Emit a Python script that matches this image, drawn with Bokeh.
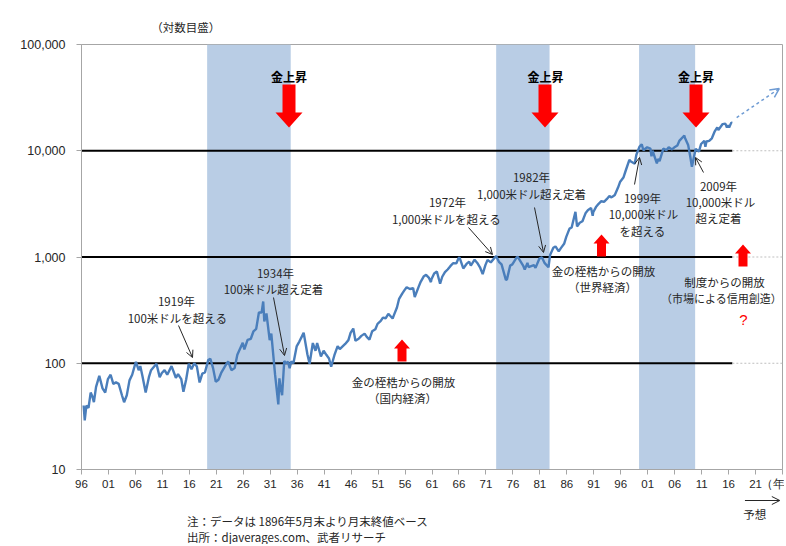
from bokeh.plotting import figure
from bokeh.layouts import column
from bokeh.models import FixedTicker, Label, Arrow, OpenHead, Range1d
from bokeh.embed import file_html
from bokeh.resources import INLINE

# ---------------- data ----------------
years = [
    1896.4, 1896.6, 1896.9, 1897.3, 1897.7, 1898.0, 1898.3, 1898.7, 1899.3, 1899.9,
    1900.4, 1900.9, 1901.4, 1901.9, 1902.4, 1902.9, 1903.5, 1903.9, 1904.4, 1904.9,
    1905.4, 1905.9, 1906.1, 1906.6, 1906.9, 1907.3, 1907.9, 1908.5, 1908.9, 1909.9,
    1910.5, 1910.9, 1911.4, 1911.9, 1912.7, 1913.5, 1913.9, 1914.5, 1914.9, 1915.4,
    1915.9, 1916.4, 1916.9, 1917.4, 1917.9, 1918.4, 1918.9, 1919.5, 1919.9,
    1920.4, 1920.9, 1921.4, 1921.9, 1922.9, 1923.2, 1923.8, 1924.4, 1924.9, 1925.9,
    1926.2, 1926.8, 1927.4, 1927.9, 1928.4, 1928.9, 1929.4, 1929.7, 1929.9,
    1930.3, 1930.9, 1931.2, 1931.9, 1932.5, 1932.7, 1932.9, 1933.2, 1933.6, 1933.9,
    1934.3, 1934.6, 1934.9, 1935.3, 1935.9, 1936.4, 1936.9, 1937.2, 1937.9, 1938.3,
    1938.9, 1939.4, 1939.7,
    1940.4, 1940.9, 1941.4, 1941.9, 1942.3, 1942.9, 1943.5, 1943.9, 1944.9, 1945.5,
    1945.9, 1946.4, 1946.8, 1947.4, 1947.9, 1948.5, 1948.9, 1949.4, 1949.9,
    1950.5, 1950.9, 1951.5, 1951.9, 1952.4, 1952.9, 1953.7, 1953.9, 1954.5, 1954.9,
    1955.5, 1955.9, 1956.3, 1956.9, 1957.5, 1957.8, 1958.5, 1958.9, 1959.5, 1959.9,
    1960.4, 1960.8, 1960.9, 1961.4, 1961.9, 1962.5, 1962.9, 1963.4, 1963.9, 1964.4,
    1964.9, 1965.5, 1965.9, 1966.1, 1966.8, 1967.4, 1967.9, 1968.2, 1968.9, 1969.4,
    1969.9,
    1970.4, 1970.9, 1971.3, 1971.9, 1972.9, 1973.4, 1973.9, 1974.7, 1974.9, 1975.5,
    1975.9, 1976.7, 1976.9, 1977.9, 1978.2, 1978.7, 1978.9, 1979.9,
    1980.2, 1980.9, 1981.4, 1981.9, 1982.6, 1982.9, 1983.5, 1983.9, 1984.5, 1984.9,
    1985.5, 1985.9, 1986.5, 1986.9, 1987.6, 1987.9, 1988.4, 1988.9, 1989.5, 1989.9,
    1990.5, 1990.8, 1990.9, 1991.4, 1991.9, 1992.4, 1992.9, 1993.4, 1993.9, 1994.2,
    1994.5, 1994.9, 1995.5, 1995.9, 1996.5, 1996.9, 1997.6, 1997.9, 1998.6, 1998.9,
    1999.5, 1999.9,
    2000.2, 2000.9, 2001.5, 2001.7, 2001.9, 2002.7, 2002.9, 2003.2, 2003.9, 2004.5,
    2004.9, 2005.5, 2005.9, 2006.5, 2006.9, 2007.8, 2007.9, 2008.5, 2008.9, 2009.2,
    2009.9,
    2010.5, 2010.9, 2011.5, 2011.7, 2011.9, 2012.4, 2012.9, 2013.4, 2013.9, 2014.1,
    2014.9, 2015.4, 2015.7, 2015.9, 2016.1, 2016.5, 2016.7,
]
djia = [
    40, 29, 40, 38, 53, 49, 43, 60, 76, 58,
    53, 71, 78, 64, 66, 64, 50, 43, 50, 69,
    78, 96, 103, 86, 94, 76, 53, 74, 86, 99,
    74, 81, 86, 78, 94, 73, 79, 71, 54, 70,
    99, 88, 100, 93, 66, 80, 82, 107, 110,
    90, 67, 70, 81, 99, 104, 86, 90, 120, 156,
    135, 166, 170, 200, 211, 300, 300, 381, 248,
    294, 165, 190, 78, 41, 72, 60, 50, 105, 100,
    103, 90, 104, 100, 144, 160, 180, 194, 121, 99,
    155, 131, 155,
    116, 131, 120, 111, 93, 119, 145, 136, 152, 165,
    193, 212, 163, 170, 181, 190, 177, 167, 200,
    209, 235, 250, 269, 265, 292, 264, 281, 335, 404,
    455, 488, 520, 500, 510, 420, 520, 584, 660, 679,
    640, 580, 616, 700, 731, 560, 652, 720, 763, 820,
    874, 870, 969, 990, 780, 860, 905, 830, 944, 880,
    800,
    690, 839, 940, 890, 1020, 900, 851, 610, 616, 830,
    852, 990, 1005, 831, 760, 880, 805, 839,
    790, 964, 990, 875, 800, 1047, 1220, 1259, 1130, 1212,
    1330, 1547, 1850, 1896, 2660, 1939, 2100, 2169, 2600, 2753,
    2900, 2440, 2634, 2950, 3169, 3350, 3301, 3500, 3754, 3650,
    3700, 3834, 4500, 5117, 5600, 6448, 8200, 7908, 7540, 9181,
    10970, 11497,
    10100, 10787, 10500, 8850, 10021, 7600, 8342, 7990, 10454, 10150,
    10783, 10300, 10718, 11200, 12463, 13930, 13265, 11350, 8776, 7060,
    10428,
    9800, 11578, 12400, 10900, 12218, 12400, 13104, 15100, 16577, 15700,
    17823, 18000, 16500, 17425, 16500, 18400, 18300,
]

band_start = [1919.3, 1972.9, 1999.4]
band_end = [1934.8, 1982.8, 2009.8]
levels = [100, 1000, 10000]
level_end = 2016.7
forecast_x = [2017.5, 2025.4]
forecast_y = [20500, 38500]

x_ticks = list(range(1896, 2027, 5))
x_tick_labels = ["96", "01", "06", "11", "16", "21", "26", "31", "36", "41", "46",
                 "51", "56", "61", "66", "71", "76", "81", "86", "91", "96",
                 "01", "06", "11", "16", "21", "（年"]
y_ticks = [10, 100, 1000, 10000, 100000]
y_tick_labels = ["10", "100", "1,000", "10,000", "100,000"]

# ---------------- layout ----------------
W = 784
TOP_H, MAIN_H, BOT_H = 36, 458, 50
LEFT, RIGHT, TOP, BOTTOM = 81, 2, 8, 25
X_START, X_END = 1896, 2026
FRAME_W = W - LEFT - RIGHT
PPX = FRAME_W / (X_END - X_START)
FRAME_H = MAIN_H - TOP - BOTTOM
PPD = FRAME_H / 4.0
PAGE_X0 = LEFT
PAGE_YB = TOP_H + TOP + FRAME_H   # frame bottom on page

def yr(px):
    return X_START + (px - PAGE_X0) / PPX

def val(py):
    return 10 ** (1 + (PAGE_YB - py) / PPD)

JP = "Noto Sans CJK JP"
LAT = "Liberation Sans"
TXT = "#262626"
AXC = "#A6A6A6"

p = figure(width=W, height=MAIN_H, x_range=(X_START, X_END), y_range=(10, 100000),
           y_axis_type="log", output_backend="svg", toolbar_location=None,
           title=None, min_border_left=LEFT, min_border_right=RIGHT,
           min_border_top=TOP, min_border_bottom=BOTTOM)
p.xgrid.visible = False
p.ygrid.visible = False
p.outline_line_color = AXC

xa = p.xaxis[0]
xa.ticker = FixedTicker(ticks=x_ticks, minor_ticks=[])
xa.major_label_overrides = dict(zip(x_ticks, x_tick_labels))
xa.axis_line_color = AXC
xa.major_tick_line_color = AXC
xa.major_tick_out = 5
xa.major_tick_in = 0
xa.minor_tick_line_color = None
xa.major_label_text_font = LAT
xa.major_label_text_font_size = "11.5px"
xa.major_label_text_color = TXT
xa.major_label_standoff = 3

ya = p.yaxis[0]
ya.ticker = FixedTicker(ticks=y_ticks, minor_ticks=[])
ya.major_label_overrides = dict(zip(y_ticks, y_tick_labels))
ya.axis_line_color = AXC
ya.major_tick_line_color = AXC
ya.major_tick_out = 5
ya.major_tick_in = 0
ya.minor_tick_line_color = None
ya.major_label_text_font = LAT
ya.major_label_text_font_size = "12.5px"
ya.major_label_text_color = TXT
ya.major_label_standoff = 11

# shaded periods
p.quad(left=band_start, right=band_end, bottom=[10] * len(band_start),
       top=[100000] * len(band_start), fill_color="#B9CDE5", line_color=None)

# reference levels
p.segment(x0=[X_START] * len(levels), x1=[level_end] * len(levels), y0=levels, y1=levels,
          line_color="black", line_width=2)
p.segment(x0=[level_end] * len(levels), x1=[X_END] * len(levels), y0=levels, y1=levels,
          line_color="#BFBFBF", line_width=1, line_dash="2 2")

# DJIA
p.line(years, djia, line_color="#4A7EBB", line_width=2.4)

# projection
p.add_layout(Arrow(x_start=forecast_x[0], y_start=forecast_y[0],
                   x_end=forecast_x[1], y_end=forecast_y[1],
                   line_color="#6E9BD3", line_width=1.5, line_dash="3 3",
                   end=OpenHead(size=9, line_color="#6E9BD3", line_width=1.5)))

# red block arrows (annotation shapes, defined in page pixels)
def block_arrow(cx, tip, tail, body, head, head_h):
    d = 1 if tail < tip else -1     # 1: pointing down
    base = tip - d * head_h
    pts = [(cx - body / 2, tail), (cx + body / 2, tail), (cx + body / 2, base),
           (cx + head / 2, base), (cx, tip), (cx - head / 2, base), (cx - body / 2, base)]
    return [yr(a) for a, _ in pts], [val(b) for _, b in pts]

xs, ys = [], []
for cx in [288.5, 544.5, 695.5]:
    a, b = block_arrow(cx, 127, 84, 13, 27, 15)
    xs.append(a); ys.append(b)
for cx, tip in [(401.5, 339), (601, 234), (742.5, 244)]:
    a, b = block_arrow(cx, tip, tip + 22, 9, 16, 9)
    xs.append(a); ys.append(b)
p.patches(xs, ys, fill_color="#FF0000", line_color=None)

def txt(s, px, py, size="11.5px", align="center", color=TXT, font=JP, style="normal"):
    p.add_layout(Label(x=yr(px), y=val(py), text=s, text_align=align,
                       text_baseline="middle", text_font=font, text_font_size=size,
                       text_color=color, text_font_style=style))

for cx in [288.5, 545, 695.5]:
    txt("金上昇", cx, 76, size="12px", color="black", style="bold")

notes = [
    ("1919年", 176, 300), ("100米ドルを超える", 177, 317),
    ("1934年", 275, 272), ("100米ドル超え定着", 273, 288),
    ("1972年", 447, 201), ("1,000米ドルを超える", 446, 218),
    ("1982年", 531, 176), ("1,000米ドル超え定着", 531, 193),
    ("1999年", 642, 197), ("10,000米ドル", 643, 213), ("を超える", 642, 230),
    ("2009年", 718, 185), ("10,000米ドル", 720, 201), ("超え定着", 718, 217),
    ("金の桎梏からの開放", 403, 381), ("（国内経済）", 402, 397),
    ("金の桎梏からの開放", 603, 270), ("（世界経済）", 602, 286),
    ("制度からの開放", 724, 281),
]
for s, px, py in notes:
    txt(s, px, py)
txt("（市場による信用創造）", 721, 297, size="11px")
txt("?", 743, 319, size="15px", color="#FF0000", font=LAT)

# thin pointer arrows
for x0, y0, x1, y1 in [(178, 325, 192, 357), (273, 297, 284, 355), (468, 227, 492, 254),
                       (534, 207, 543, 252), (634, 184, 639, 157), (703, 172, 695, 157)]:
    p.add_layout(Arrow(x_start=yr(x0), y_start=val(y0), x_end=yr(x1), y_end=val(y1),
                       line_color=TXT, line_width=1,
                       end=OpenHead(size=7, line_color=TXT, line_width=1)))

# ---------------- strips above and below (pixel coordinates, y down) ----------------
def strip(h):
    f = figure(width=W, height=h, x_range=Range1d(0, W), y_range=Range1d(h, 0),
               output_backend="svg", toolbar_location=None, title=None,
               x_axis_location=None, y_axis_location=None,
               min_border_left=0, min_border_right=0, min_border_top=0, min_border_bottom=0)
    f.xgrid.visible = False
    f.ygrid.visible = False
    f.outline_line_color = None
    return f

top = strip(TOP_H)
top.add_layout(Label(x=78, y=26.5, text="（対数目盛）", text_align="left", text_baseline="middle",
                     text_font=JP, text_font_size="11.5px", text_color=TXT))

bot = strip(BOT_H)
OFF = TOP_H + MAIN_H
bot.add_layout(Arrow(x_start=742, y_start=500 - OFF, x_end=781, y_end=500 - OFF,
                     line_color=TXT, line_width=1,
                     end=OpenHead(size=8, line_color=TXT, line_width=1)))
bot.add_layout(Label(x=753, y=513 - OFF, text="予想", text_align="center", text_baseline="middle",
                     text_font=JP, text_font_size="11.5px", text_color=TXT))
bot.add_layout(Label(x=118, y=520 - OFF, text="注：データは 1896年5月末より月末終値ベース",
                     text_align="left", text_baseline="middle",
                     text_font=JP, text_font_size="11.5px", text_color=TXT))
bot.add_layout(Label(x=118, y=536 - OFF, text="出所：djaverages.com、武者リサーチ",
                     text_align="left", text_baseline="middle",
                     text_font=JP, text_font_size="11.5px", text_color=TXT))

layout = column(top, p, bot, spacing=0)
open("out.html", "w").write(file_html(layout, INLINE))
